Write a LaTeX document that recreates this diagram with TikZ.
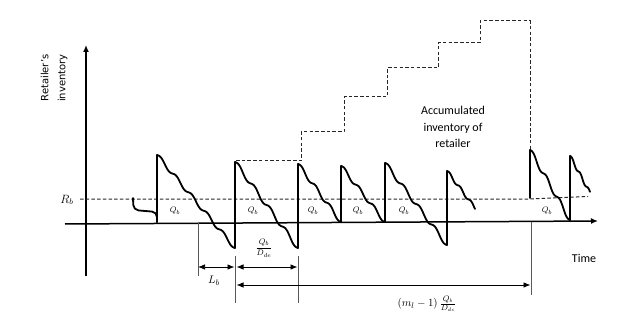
\documentclass[tikz,border=0pt]{standalone}
\usepackage{fontspec}
\setmainfont{Carlito}
\newfontfamily\vfont{DejaVu Sans}
\usetikzlibrary{arrows.meta}
\newcommand\sawdown[5]{\draw[saw] plot[domain=0:1,samples=90,smooth] ({#1+(#3-#1)*\x},{#2+(#4-#2)*(\x-0.75*sin(360*#5*\x)/(6.2832*#5))});}
\begin{document}
\begin{tikzpicture}[x=1pt,y=-1pt,
  saw/.style={line width=1.8pt,line join=round,line cap=round},
  axis/.style={line width=1.5pt,-{Latex[length=7pt,width=6pt]}},
  dsh/.style={line width=1pt,dash pattern=on 3.5pt off 2.2pt,gray!30!black},
  thin/.style={line width=0.6pt,gray!70!black},
  meas/.style={line width=0.7pt,{Latex[length=7pt,width=5.5pt]}-{Latex[length=7pt,width=5.5pt]}},
  qb/.style={font=\fontsize{8}{9}\selectfont,inner sep=0pt}]
\useasboundingbox (0,0) rectangle (624,326);
% axes
\coordinate (vb) at (86,276); \coordinate (vt) at (86,45);
\coordinate (hl) at (65,224); \coordinate (hr) at (598,221);
\draw[axis] (vb) -- (vt);
\draw[axis] (hl) -- (hr);
\node[rotate=90,align=center,font=\vfont\fontsize{10}{17}\selectfont] (ylab) at (54,78) {Retailer’s\\inventory};
\node[font=\fontsize{12}{14}\selectfont] (tlab) at (584,258) {Time};
\node[font=\fontsize{12}{14}\selectfont] (rb) at (67,200) {$R_b$};
% reorder level line
\coordinate (r1) at (80,199); \coordinate (r2) at (530,199); \coordinate (r3) at (588,196.5);
\draw[dsh] (r1) -- (r2) -- (r3);
% accumulated inventory staircase
\coordinate (s0) at (236,161);
\draw[dsh] (s0) -- (301,161) -- (301,132) -- (344,132) -- (344,97) -- (387,97) -- (387,68) -- (438,68) -- (438,43) -- (480,43) -- (480,21) -- (530,21) -- (530,150);
\node[align=center,font=\fontsize{12}{16.5}\selectfont] (acc) at (453,127) {Accumulated\\inventory of\\retailer};
% initial partial cycle
\draw[saw,rounded corners=5pt] (133,198) -- (133.5,210) -- (157,212) -- (157,222);
% cycles
\draw[saw] (157,222) -- (157,155);
\sawdown{157}{155}{235}{248}{5}
\draw[saw] (235,248) -- (235,162);
\sawdown{235}{162}{298}{248}{4}
\draw[saw] (298,248) -- (298,164);
\sawdown{298}{164}{341}{222}{3}
\draw[saw] (341,222) -- (341,166);
\sawdown{341}{166}{385}{222}{3}
\draw[saw] (385,222) -- (385,163);
\sawdown{385}{163}{447}{245}{4}
\draw[saw] (447,245) -- (447,171);
\sawdown{447}{171}{475}{208}{2.6}
\draw[saw] (530,198) -- (530,150);
\sawdown{530}{150}{570}{220}{3}
\draw[saw] (570,220) -- (570,156);
\sawdown{570}{156}{590}{193}{2.4}
% Q_b labels
\node[qb] (q1) at (175,211) {$Q_b$};
\node[qb] (q2) at (253,211) {$Q_b$};
\node[qb] (q3) at (313,211) {$Q_b$};
\node[qb] (q4) at (358,211) {$Q_b$};
\node[qb] (q5) at (404,211) {$Q_b$};
\node[qb] (q6) at (547,211) {$Q_b$};
% measurement lines
\coordinate (m1t) at (198,223); \coordinate (m1b) at (198,276);
\coordinate (m2t) at (235,256); \coordinate (m2b) at (235,303);
\coordinate (m3t) at (298,256); \coordinate (m3b) at (298,303);
\coordinate (m4t) at (531,222); \coordinate (m4b) at (531,295);
\draw[thin] (m1t) -- (m1b);
\draw[thin] (m2t) -- (m2b);
\draw[thin] (m3t) -- (m3b);
\draw[thin] (m4t) -- (m4b);
\coordinate (a1) at (198,267); \coordinate (a2) at (234.5,267);
\coordinate (a3) at (236.5,267); \coordinate (a4) at (297.5,267);
\coordinate (a5) at (236.5,285); \coordinate (a6) at (530.5,285);
\draw[meas] (a1) -- (a2);
\draw[meas] (a3) -- (a4);
\draw[meas] (a5) -- (a6);
\node[font=\fontsize{11}{12}\selectfont] (lb) at (214,281) {$L_b$};
\node[font=\fontsize{8.5}{9}\selectfont] (f1) at (264,248) {$\displaystyle\frac{Q_b}{D_{de}}$};
\node[font=\fontsize{11}{12}\selectfont] (f2) at (427,304) {$(m_l-1)\,\frac{Q_b}{D_{dc}}$};
\end{tikzpicture}
\end{document}
